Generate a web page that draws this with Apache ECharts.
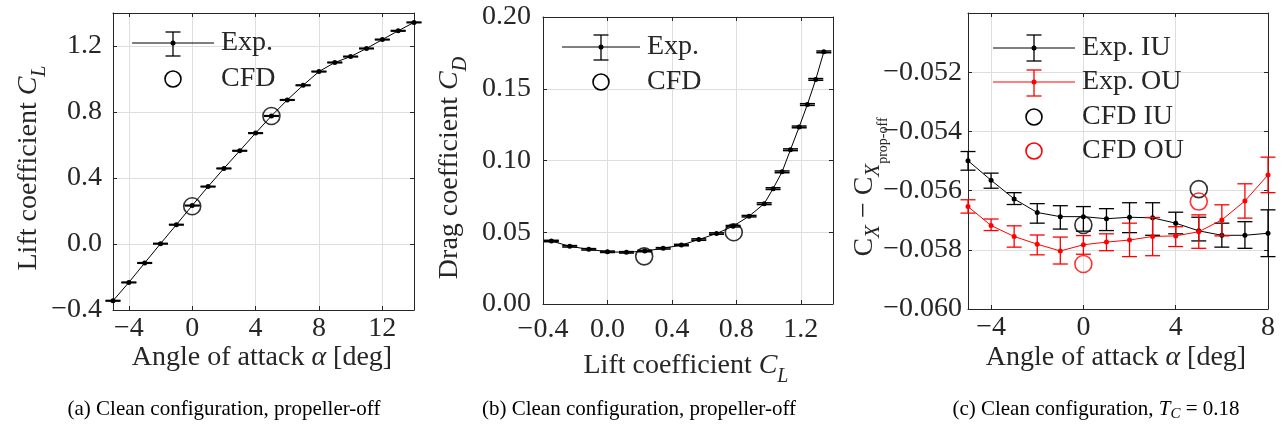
<!DOCTYPE html>
<html><head><meta charset="utf-8">
<script src="https://cdn.jsdelivr.net/npm/echarts@6/dist/echarts.min.js"></script>
<style>html,body{margin:0;padding:0;background:#fff}#c{width:1284px;height:429px}</style>
</head><body><div id="c"></div>
<script>
// ---------------- DATA ----------------
// (a) lift curve, propeller-off
const aAlpha = [-5,-4,-3,-2,-1,0,1,2,3,4,5,6,7,8,9,10,11,12,13,14];
const aCL    = [-0.344,-0.233,-0.115,0.002,0.117,0.233,0.348,0.458,0.565,0.672,0.776,0.873,0.962,1.045,1.100,1.136,1.185,1.239,1.292,1.343];
const aCLErr = [0.002,0.002,0.002,0.002,0.002,0.002,0.002,0.002,0.002,0.002,0.002,0.002,0.002,0.002,0.002,0.002,0.002,0.002,0.002,0.002];
const aCfdAlpha = [0, 5];
const aCfdCL    = [0.229, 0.776];
const aTicksX = [-4, 0, 4, 8, 12];
const aTicksY = [-0.4, 0.0, 0.4, 0.8, 1.2];

// (b) drag polar, propeller-off
const bCL    = [-0.348,-0.234,-0.116,0.000,0.118,0.232,0.346,0.459,0.567,0.677,0.780,0.879,0.973,1.028,1.084,1.136,1.190,1.241,1.293,1.343];
const bCD    = [0.0439,0.0402,0.0381,0.0364,0.0360,0.0369,0.0388,0.0411,0.0449,0.0491,0.0542,0.0612,0.0699,0.0804,0.0921,0.1075,0.1234,0.1390,0.1565,0.1757];
const bCDErr = [0.0005,0.0005,0.0005,0.0005,0.0005,0.0005,0.0005,0.0005,0.0005,0.0005,0.0005,0.0005,0.0006,0.0006,0.0006,0.0006,0.0006,0.0006,0.0006,0.0006];
const bCfdCL = [0.228, 0.784];
const bCfdCD = [0.0332, 0.0500];
const bTicksX = [-0.4, 0.0, 0.4, 0.8, 1.2];
const bTicksY = [0.00, 0.05, 0.10, 0.15, 0.20];

// (c) axial force, T_C = 0.18
const cAlpha = [-5,-4,-3,-2,-1,0,1,2,3,4,5,6,7,8];
const cIU    = [-0.05499,-0.05565,-0.05628,-0.05674,-0.05688,-0.05688,-0.05695,-0.05690,-0.05692,-0.05710,-0.05736,-0.05751,-0.05751,-0.05744];
const cIUHi  = [-0.05468,-0.05541,-0.05607,-0.05644,-0.05651,-0.05654,-0.05661,-0.05641,-0.05641,-0.05673,-0.05690,-0.05710,-0.05705,-0.05665];
const cIULo  = [-0.05531,-0.05592,-0.05647,-0.05710,-0.05730,-0.05737,-0.05735,-0.05742,-0.05751,-0.05746,-0.05770,-0.05791,-0.05795,-0.05823];
const cOU    = [-0.05654,-0.05718,-0.05755,-0.05781,-0.05804,-0.05783,-0.05774,-0.05767,-0.05755,-0.05753,-0.05739,-0.05699,-0.05635,-0.05547];
const cOUHi  = [-0.05631,-0.05696,-0.05719,-0.05750,-0.05757,-0.05752,-0.05746,-0.05710,-0.05691,-0.05722,-0.05682,-0.05648,-0.05577,-0.05487];
const cOULo  = [-0.05676,-0.05735,-0.05791,-0.05817,-0.05848,-0.05815,-0.05803,-0.05823,-0.05820,-0.05789,-0.05795,-0.05753,-0.05693,-0.05607];
const cCfdAlpha = [0, 5];
const cCfdIU    = [-0.05716, -0.05595];
const cCfdOU    = [-0.05848, -0.05637];
const cTicksX = [-4, 0, 4, 8];
const cTicksY = [-0.060, -0.058, -0.056, -0.054, -0.052];

// ---------------- STYLE / LAYOUT ----------------
const FONT = '"Liberation Serif","Times New Roman",serif';
const TXT = '#262626';
const GRIDC = '#dedede';
const RED = '#ff0000';
const FS = 28;

function fmt(d) {
  return function (v) {
    const s = Math.abs(v).toFixed(d);
    return (v < -1e-12 ? '\u2212' : '') + s;
  };
}

function axisPair(kind, g, min, max, ticks, d, margin) {
  const main = {
    type: 'value', gridIndex: g, min: min, max: max,
    position: kind === 'x' ? 'bottom' : 'left',
    axisLine: { show: true, onZero: false, lineStyle: { color: TXT, width: 1 } },
    axisTick: { show: true, inside: true, length: 4, customValues: ticks, lineStyle: { color: TXT, width: 1 } },
    axisLabel: { show: true, customValues: ticks, margin: margin, formatter: fmt(d),
      color: TXT, fontFamily: FONT, fontSize: FS },
    splitLine: { show: true, lineStyle: { color: GRIDC, width: 1 } }
  };
  const mirror = {
    type: 'value', gridIndex: g, min: min, max: max,
    position: kind === 'x' ? 'top' : 'right',
    axisLine: { show: true, onZero: false, lineStyle: { color: TXT, width: 1 } },
    axisTick: { show: true, inside: true, length: 4, customValues: ticks, lineStyle: { color: TXT, width: 1 } },
    axisLabel: { show: false },
    splitLine: { show: false }
  };
  return [main, mirror];
}

function errSeries(xi, yi, xs, lo, hi, color, lw, z) {
  return {
    type: 'custom', xAxisIndex: xi, yAxisIndex: yi, silent: true, z: z,
    data: xs.map((x, i) => [x, lo[i], hi[i]]),
    renderItem: function (params, api) {
      const x = api.value(0);
      const p1 = api.coord([x, api.value(1)]);
      const p2 = api.coord([x, api.value(2)]);
      const hw = 7.5;
      const st = { stroke: color, lineWidth: lw };
      return { type: 'group', children: [
        { type: 'line', shape: { x1: p1[0], y1: p1[1], x2: p2[0], y2: p2[1] }, style: st },
        { type: 'line', shape: { x1: p1[0] - hw, y1: p1[1], x2: p1[0] + hw, y2: p1[1] }, style: st },
        { type: 'line', shape: { x1: p2[0] - hw, y1: p2[1], x2: p2[0] + hw, y2: p2[1] }, style: st }
      ]};
    }
  };
}
function lineSeries(xi, yi, xs, ys, color, z) {
  return {
    type: 'line', xAxisIndex: xi, yAxisIndex: yi, z: z, silent: true, clip: false,
    data: xs.map((x, i) => [x, ys[i]]),
    symbol: 'circle', symbolSize: 5, showSymbol: true,
    itemStyle: { color: color }, lineStyle: { color: color, width: 1 },
    animation: false
  };
}
function cfdSeries(xi, yi, xs, ys, color, z) {
  return {
    type: 'scatter', xAxisIndex: xi, yAxisIndex: yi, z: z, silent: true,
    data: xs.map((x, i) => [x, ys[i]]),
    symbol: 'circle', symbolSize: 17,
    itemStyle: { color: 'rgba(0,0,0,0)', borderColor: color, borderWidth: 1.6 },
    animation: false
  };
}

// rich text styles
const RICH = {
  n:  { fontSize: FS, fontFamily: FONT, fill: TXT, color: TXT },
  i:  { fontSize: FS, fontFamily: FONT, fontStyle: 'italic', fill: TXT, color: TXT },
  s:  { fontSize: 20, fontFamily: FONT, fontStyle: 'italic', fill: TXT, color: TXT, padding: [22, 0, 0, 0] },
  sx: { fontSize: 21, fontFamily: FONT, fontStyle: 'italic', fill: TXT, color: TXT, padding: [16, 0, 0, 0] },
  sp: { fontSize: 14, fontFamily: FONT, fill: TXT, color: TXT, padding: [36, 0, 0, 0] },
  cn: { fontSize: 21, fontFamily: FONT, fill: '#000', color: '#000' },
  ci: { fontSize: 21, fontFamily: FONT, fontStyle: 'italic', fill: '#000', color: '#000' },
  cs: { fontSize: 15, fontFamily: FONT, fontStyle: 'italic', fill: '#000', color: '#000', padding: [10, 0, 0, 0] }
};
function rtext(x, y, text, rot) {
  return { type: 'text', x: x, y: y, rotation: rot || 0, z: 20, silent: true,
    style: { text: text, rich: RICH, fill: TXT, font: FS + 'px ' + FONT, align: 'center', verticalAlign: 'middle' } };
}
function plain(x, y, text) {
  return { type: 'text', x: x, y: y, z: 20, silent: true,
    style: { text: text, fill: TXT, font: FS + 'px ' + FONT, align: 'left', verticalAlign: 'middle' } };
}
function legErr(x, y, x1, x2, top, bot, color) {
  const st = { stroke: color, lineWidth: 1.3 };
  return [
    { type: 'line', z: 20, silent: true, shape: { x1: x1, y1: y, x2: x2, y2: y }, style: { stroke: color, lineWidth: 1 } },
    { type: 'line', z: 20, silent: true, shape: { x1: x, y1: top, x2: x, y2: bot }, style: st },
    { type: 'line', z: 20, silent: true, shape: { x1: x - 7.5, y1: top, x2: x + 7.5, y2: top }, style: st },
    { type: 'line', z: 20, silent: true, shape: { x1: x - 7.5, y1: bot, x2: x + 7.5, y2: bot }, style: st },
    { type: 'circle', z: 21, silent: true, shape: { cx: x, cy: y, r: 2.5 }, style: { fill: color } }
  ];
}
function legCircle(x, y, color) {
  return { type: 'circle', z: 20, silent: true, shape: { cx: x, cy: y, r: 8 }, style: { fill: 'none', stroke: color, lineWidth: 1.6 } };
}

const ax = [
  axisPair('x', 0, -5, 14, aTicksX, 0, 5),
  axisPair('x', 1, -0.4, 1.4, bTicksX, 1, 12),
  axisPair('x', 2, -5, 8, cTicksX, 0, 5)
];
const ay = [
  axisPair('y', 0, -0.4, 1.4, aTicksY, 1, 11),
  axisPair('y', 1, 0, 0.2, bTicksY, 2, 12),
  axisPair('y', 2, -0.060, -0.050, cTicksY, 3, 6)
];
const xAxes = [].concat(ax[0], ax[1], ax[2]);
const yAxes = [].concat(ay[0], ay[1], ay[2]);

const aLo = aCL.map((v, i) => v - aCLErr[i]), aHi = aCL.map((v, i) => v + aCLErr[i]);
const bLo = bCD.map((v, i) => v - bCDErr[i]), bHi = bCD.map((v, i) => v + bCDErr[i]);

const graphics = [].concat(
  // axis titles
  rtext(29, 168, '{n|Lift coefficient }{i|C}{s|L}', Math.PI / 2),
  rtext(450, 168, '{n|Drag coefficient }{i|C}{s|D}', Math.PI / 2),
  rtext(865, 187, '{n|C}{sx|X}{n| \u2212 C}{sx|X}{sp|prop-off}', Math.PI / 2),
  rtext(262, 358, '{n|Angle of attack }{i|\u03b1}{n| [deg]}'),
  rtext(686, 366, '{n|Lift coefficient }{i|C}{s|L}'),
  rtext(1116, 358, '{n|Angle of attack }{i|\u03b1}{n| [deg]}'),
  // captions
  rtext(224, 409, '{cn|(a) Clean configuration, propeller-off}'),
  rtext(639, 409, '{cn|(b) Clean configuration, propeller-off}'),
  rtext(1096, 409, '{cn|(c) Clean configuration, }{ci|T}{cs|C}{cn| = 0.18}'),
  // legends
  legErr(173, 43, 132, 214, 32, 56, '#000'), plain(221, 43, 'Exp.'),
  legCircle(173, 79, '#000'), plain(221, 79, 'CFD'),
  legErr(601, 47, 562, 640, 35, 60, '#000'), plain(647, 47, 'Exp.'),
  legCircle(601, 82, '#000'), plain(647, 82, 'CFD'),
  legErr(1034, 48, 993, 1075, 35, 61, '#000'), plain(1082, 48, 'Exp. IU'),
  legErr(1034, 82, 993, 1075, 70, 96, RED), plain(1082, 82, 'Exp. OU'),
  legCircle(1034, 117, '#000'), plain(1082, 117, 'CFD IU'),
  legCircle(1034, 151, RED), plain(1082, 151, 'CFD OU')
);

const option = {
  backgroundColor: '#fff',
  animation: false,
  grid: [
    { left: 113, top: 13, width: 301, height: 297 },
    { left: 543, top: 17, width: 290, height: 287 },
    { left: 968, top: 13, width: 300, height: 296 }
  ],
  xAxis: xAxes,
  yAxis: yAxes,
  graphic: { elements: graphics },
  series: [
    errSeries(0, 0, aAlpha, aLo, aHi, '#000', 1.5, 3),
    lineSeries(0, 0, aAlpha, aCL, '#000', 4),
    cfdSeries(0, 0, aCfdAlpha, aCfdCL, '#000', 5),

    errSeries(2, 2, bCL, bLo, bHi, '#000', 1.5, 3),
    lineSeries(2, 2, bCL, bCD, '#000', 4),
    cfdSeries(2, 2, bCfdCL, bCfdCD, '#000', 5),

    errSeries(4, 4, cAlpha, cIULo, cIUHi, '#000', 1.3, 3),
    lineSeries(4, 4, cAlpha, cIU, '#000', 4),
    errSeries(4, 4, cAlpha, cOULo, cOUHi, RED, 1.3, 5),
    lineSeries(4, 4, cAlpha, cOU, RED, 6),
    cfdSeries(4, 4, cCfdAlpha, cCfdIU, '#000', 7),
    cfdSeries(4, 4, cCfdAlpha, cCfdOU, RED, 8)
  ]
};
const chart = echarts.init(document.getElementById('c'), null, { renderer: 'canvas' });
chart.setOption(option);
</script>
</body></html>
